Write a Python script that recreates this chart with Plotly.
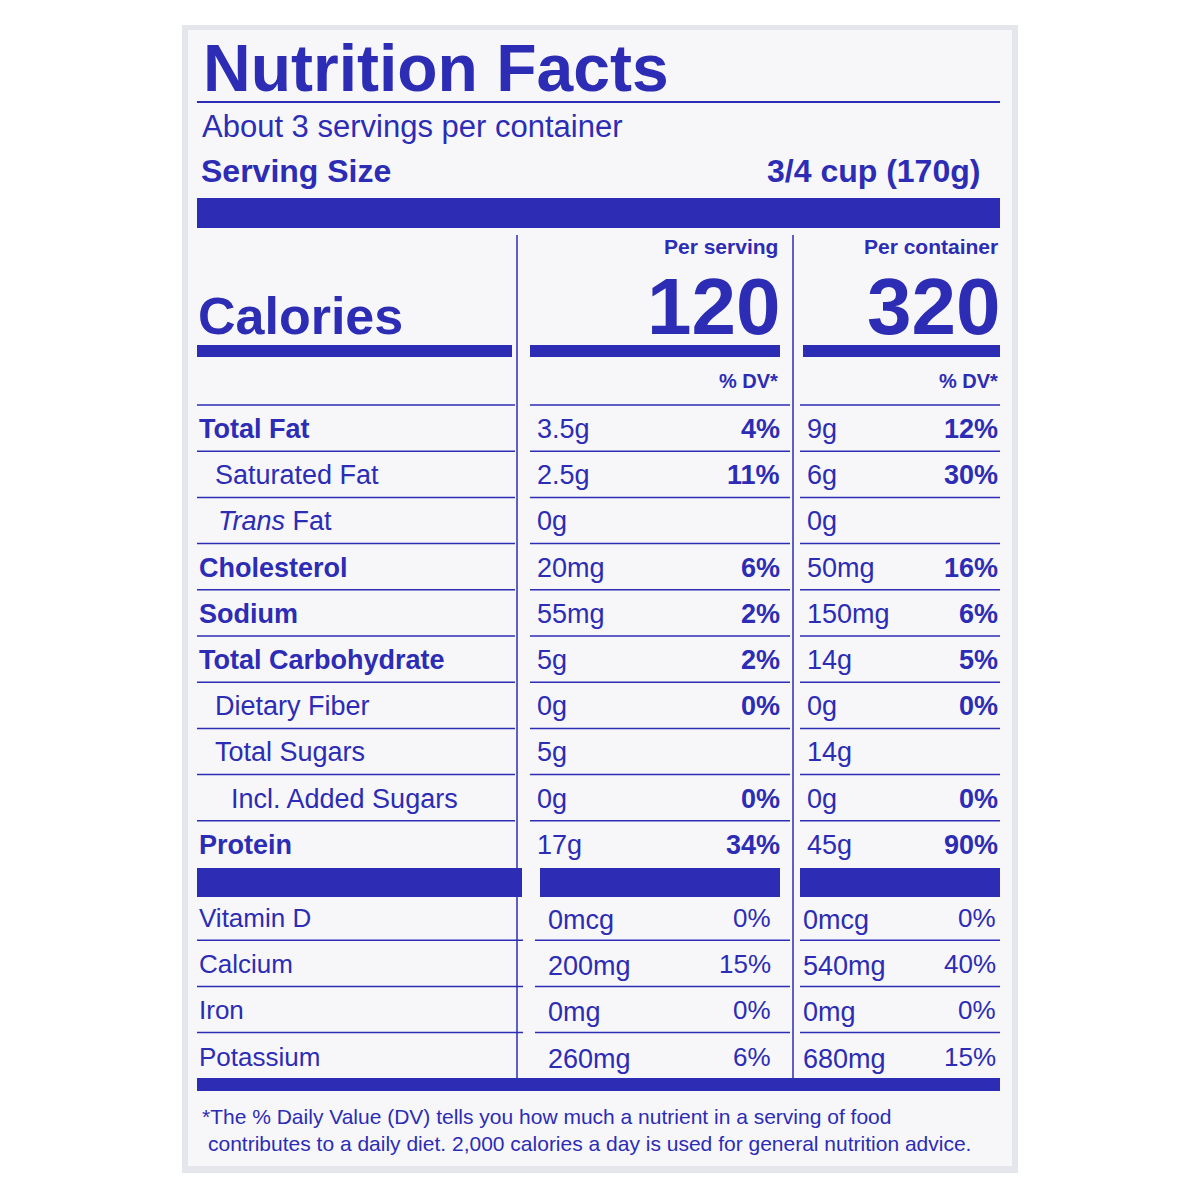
import plotly.graph_objects as go

BLUE = "#2c2cb4"
FONT = "Liberation Sans"

# data
nutrients = ["Total Fat", "Saturated Fat", "Trans Fat", "Cholesterol", "Sodium",
             "Total Carbohydrate", "Dietary Fiber", "Total Sugars", "Incl. Added Sugars", "Protein"]
bold_rows = [True, False, False, True, True, True, False, False, False, True]
indent = [0, 1, 1, 0, 0, 0, 1, 1, 2, 0]
serv_amt = ["3.5g", "2.5g", "0g", "20mg", "55mg", "5g", "0g", "5g", "0g", "17g"]
serv_dv = ["4%", "11%", "", "6%", "2%", "2%", "0%", "", "0%", "34%"]
cont_amt = ["9g", "6g", "0g", "50mg", "150mg", "14g", "0g", "14g", "0g", "45g"]
cont_dv = ["12%", "30%", "", "16%", "6%", "5%", "0%", "", "0%", "90%"]

vitamins = ["Vitamin D", "Calcium", "Iron", "Potassium"]
vit_serv_amt = ["0mcg", "200mg", "0mg", "260mg"]
vit_serv_dv = ["0%", "15%", "0%", "6%"]
vit_cont_amt = ["0mcg", "540mg", "0mg", "680mg"]
vit_cont_dv = ["0%", "40%", "0%", "15%"]

fig = go.Figure()
shapes = []
ann = []


def rect(x0, y0, x1, y1, color=BLUE):
    shapes.append(dict(type="rect", x0=x0, x1=x1, y0=y0, y1=y1, fillcolor=color,
                       line=dict(width=0), layer="above"))


def hline(x0, x1, y, w=1.5):
    shapes.append(dict(type="line", x0=x0, x1=x1, y0=y, y1=y, line=dict(color=BLUE, width=w)))


def text(x, y, s, size, bold=False, anchor="left"):
    if bold:
        s = "<b>" + s + "</b>"
    ann.append(dict(x=x, y=y, text=s, showarrow=False, xanchor=anchor, yanchor="middle",
                    font=dict(family=FONT, size=size, color=BLUE)))


# label background
rect(182, 25, 1018, 1173, "#e4e6ec")
rect(188, 30, 1012, 1166, "#f7f7fa")

text(201, 68, "Nutrition Facts", 66, True)
hline(197, 1000, 102, 2)
text(200, 126, "About 3 servings per container", 31)
text(199, 171, "Serving Size", 32, True)
text(982, 171, "3/4 cup (170g)", 32, True, "right")
rect(197, 198, 1000, 228)

text(780, 246, "Per serving", 21, True, "right")
text(1000, 246, "Per container", 21, True, "right")
text(782, 306, "120", 80, True, "right")
text(1002, 306, "320", 80, True, "right")
text(196, 316, "Calories", 52, True)
rect(197, 345, 512, 357)
rect(530, 345, 780, 357)
rect(803, 345, 1000, 357)
text(780, 381, "% DV*", 20, True, "right")
text(1000, 381, "% DV*", 20, True, "right")

# verticals
shapes.append(dict(type="line", x0=517, x1=517, y0=235, y1=1078, line=dict(color=BLUE, width=1.5)))
shapes.append(dict(type="line", x0=793, x1=793, y0=235, y1=1078, line=dict(color=BLUE, width=1.5)))

step = 46.2
for i, name in enumerate(nutrients):
    y = 429 + i * step
    top = y - 24
    hline(197, 515, top)
    hline(530, 790, top)
    hline(800, 1000, top)
    if name == "Trans Fat":
        text(216, y, "<i>Trans</i> Fat", 27)
    else:
        text(197 + indent[i] * 16, y, name, 27, bold_rows[i])
    text(535, y, serv_amt[i], 27)
    text(782, y, serv_dv[i], 27, True, "right")
    text(805, y, cont_amt[i], 27)
    text(1000, y, cont_dv[i], 27, True, "right")

rect(197, 868, 522, 897)
rect(540, 868, 780, 897)
rect(800, 868, 1000, 897)

for i, name in enumerate(vitamins):
    y = 918 + i * step
    if i > 0:
        hline(197, 523, y - 24)
        hline(535, 790, y - 24)
        hline(800, 1000, y - 24)
    text(197, y, name, 26)
    text(546, y + 2, vit_serv_amt[i], 27)
    text(773, y, vit_serv_dv[i], 26, False, "right")
    text(801, y + 2, vit_cont_amt[i], 27)
    text(998, y, vit_cont_dv[i], 26, False, "right")

rect(197, 1078, 1000, 1091)
text(200, 1116, "*The % Daily Value (DV) tells you how much a nutrient in a serving of food", 21)
text(206, 1143, "contributes to a daily diet. 2,000 calories a day is used for general nutrition advice.", 21)

fig.update_layout(
    width=1200, height=1200, margin=dict(l=0, r=0, t=0, b=0),
    paper_bgcolor="white", plot_bgcolor="white",
    xaxis=dict(range=[8, 1208], visible=False, fixedrange=True),
    yaxis=dict(range=[1208, 8], visible=False, fixedrange=True),
    shapes=shapes, annotations=ann, showlegend=False,
)
fig.write_html("out.html")
